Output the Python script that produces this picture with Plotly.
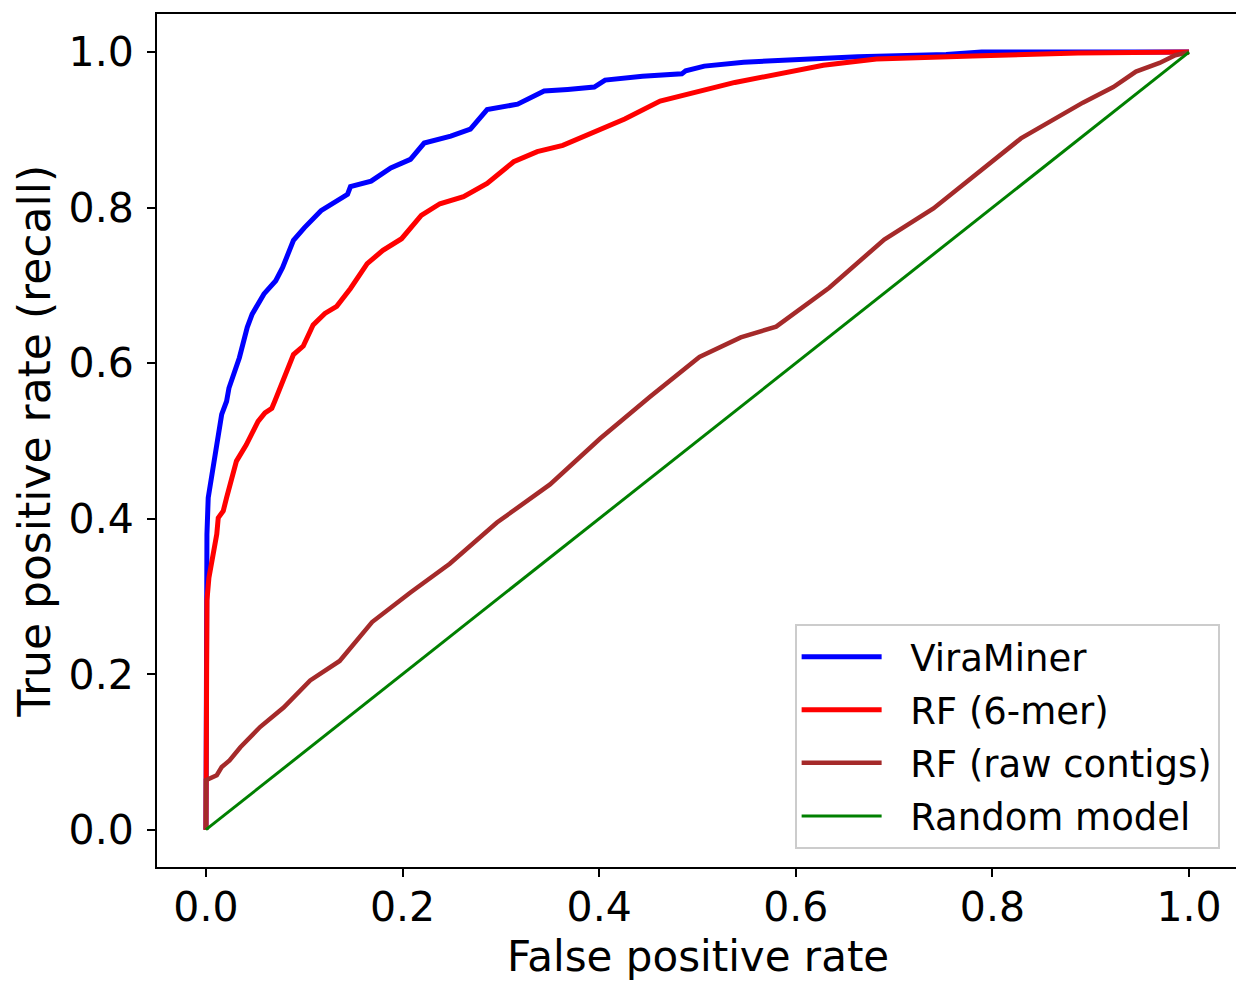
import plotly.graph_objects as go

# ---------- ROC curve data ----------
viraminer_fpr = [0, 0, 0.0, 0.001, 0.0023, 0.004, 0.0075, 0.011, 0.016, 0.021, 0.0234, 0.034, 0.042,
                 0.047, 0.059, 0.071, 0.078, 0.089, 0.1, 0.117, 0.144, 0.147, 0.168, 0.188, 0.208,
                 0.222, 0.249, 0.269, 0.286, 0.317, 0.344, 0.368, 0.395, 0.406, 0.444, 0.484, 0.488,
                 0.507, 0.547, 0.663, 0.753, 0.789, 1.0]
viraminer_tpr = [0, 0.256, 0.337, 0.380, 0.427, 0.44, 0.474, 0.495, 0.534, 0.551, 0.568, 0.607, 0.646,
                 0.663, 0.689, 0.706, 0.723, 0.758, 0.774, 0.796, 0.817, 0.827, 0.834, 0.851, 0.862,
                 0.883, 0.892, 0.901, 0.926, 0.933, 0.95, 0.952, 0.955, 0.964, 0.969, 0.972, 0.976,
                 0.982, 0.987, 0.994, 0.997, 1.0, 1.0]

rf6_fpr = [0, 0, 0.001, 0.003, 0.006, 0.0075, 0.011, 0.0125, 0.0176, 0.021, 0.026, 0.031, 0.041,
           0.046, 0.053, 0.06, 0.067, 0.07, 0.089, 0.099, 0.109, 0.121, 0.133, 0.147, 0.164, 0.180,
           0.199, 0.219, 0.238, 0.262, 0.286, 0.313, 0.337, 0.363, 0.426, 0.462, 0.538, 0.628,
           0.682, 0.78, 0.887, 1.0]
rf6_tpr = [0, 0.221, 0.295, 0.324, 0.346, 0.363, 0.380, 0.401, 0.41, 0.427, 0.453, 0.474, 0.495,
           0.508, 0.525, 0.536, 0.542, 0.551, 0.611, 0.622, 0.649, 0.664, 0.673, 0.696, 0.728, 0.745,
           0.760, 0.790, 0.805, 0.814, 0.831, 0.859, 0.872, 0.880, 0.914, 0.937, 0.961, 0.983,
           0.991, 0.995, 0.999, 1.0]

rfraw_fpr = [0, 0, 0.011, 0.016, 0.024, 0.035, 0.055, 0.079, 0.106, 0.136, 0.169, 0.208, 0.248,
             0.296, 0.35, 0.401, 0.452, 0.502, 0.544, 0.58, 0.634, 0.690, 0.740, 0.829, 0.892,
             0.923, 0.946, 0.97, 0.986, 1.0]
rfraw_tpr = [0, 0.0635, 0.07, 0.0805, 0.089, 0.106, 0.132, 0.157, 0.192, 0.217, 0.267, 0.305, 0.342,
             0.395, 0.444, 0.503, 0.557, 0.608, 0.633, 0.647, 0.697, 0.759, 0.799, 0.889, 0.935,
             0.955, 0.975, 0.986, 0.996, 1.0]

random_fpr = [0, 1]
random_tpr = [0, 1]

FONT = "DejaVu Sans"
PAD = "\u00a0\u00a0"  # gap between legend line and label

fig = go.Figure()
fig.add_trace(go.Scatter(x=viraminer_fpr, y=viraminer_tpr, mode='lines', name=PAD + 'ViraMiner',
                         legendgroup='a', line=dict(color='#0000ff', width=5)))
fig.add_trace(go.Scatter(x=rf6_fpr, y=rf6_tpr, mode='lines', name=PAD + 'RF (6-mer)',
                         legendgroup='b', line=dict(color='#ff0000', width=5)))
fig.add_trace(go.Scatter(x=rfraw_fpr, y=rfraw_tpr, mode='lines', name=PAD + 'RF (raw contigs)',
                         legendgroup='c', line=dict(color='#a52a2a', width=4.5)))
fig.add_trace(go.Scatter(x=random_fpr, y=random_tpr, mode='lines', name=PAD + 'Random model',
                         legendgroup='d', line=dict(color='#008000', width=3)))

axis_style = dict(showline=True, mirror=True, linecolor='black', linewidth=2,
                  ticks='outside', ticklen=8, tickwidth=2, tickcolor='black',
                  showgrid=False, zeroline=False, tickfont=dict(family=FONT, size=41, color='black'),
                  tickformat='.1f', dtick=0.2)

# page body adds an 8px offset, so the figure is 8px smaller than the window
fig.update_layout(
    width=1236, height=975,
    margin=dict(l=149, r=6, t=4, b=116),
    paper_bgcolor='white', plot_bgcolor='white',
    font=dict(family=FONT, color='black'),
    xaxis=dict(range=[-0.0498, 1.0498], ticklabelstandoff=-5, **axis_style),
    yaxis=dict(range=[-0.048, 1.049], ticklabelstandoff=5, **axis_style),
    showlegend=True,
    legend=dict(x=0.983, y=0.021, xanchor='right', yanchor='bottom',
                bgcolor='rgba(255,255,255,0.8)', bordercolor='#cccccc', borderwidth=2,
                font=dict(family=FONT, size=37, color='black'), itemwidth=80,
                tracegroupgap=2),
    annotations=[
        dict(text='False positive rate', xref='paper', yref='paper', x=0.5, y=-0.1357,
             xanchor='center', yanchor='bottom', showarrow=False,
             font=dict(family=FONT, size=42, color='black')),
        dict(text='True positive rate (recall)', xref='paper', yref='paper', x=-0.1129, y=0.5,
             xanchor='center', yanchor='middle', showarrow=False, textangle=-90,
             font=dict(family=FONT, size=44, color='black')),
    ],
)

fig.write_html("out.html")
